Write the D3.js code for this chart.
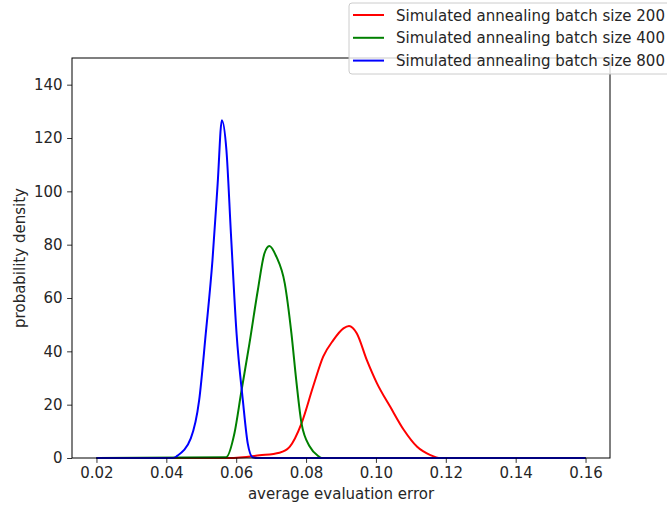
<!DOCTYPE html>
<html><head><meta charset="utf-8">
<script src="https://cdn.jsdelivr.net/npm/d3@7"></script>
<style>body{margin:0;background:#fff}svg{display:block}text{font-family:"DejaVu Sans",sans-serif;fill:#262626}</style>
</head><body><svg id="c" width="667" height="505"></svg>
<script>
const xTicks=[0.02,0.04,0.06,0.08,0.10,0.12,0.14,0.16];
const yTicks=[0,20,40,60,80,100,120,140];
const seriesNames=["Simulated annealing batch size 200","Simulated annealing batch size 400","Simulated annealing batch size 800"];
const seriesColors=["#ff0000","#008000","#0000ff"];
const red=[[0.02,0],[0.058,0],[0.0667,1.0],[0.0724,2.0],[0.0753,4.2],[0.0787,13],[0.082,26.7],[0.0849,38],[0.0878,44.2],[0.0907,48.6],[0.0923,49.5],[0.0945,46.8],[0.0974,36.7],[0.1003,28],[0.1041,19.2],[0.108,10.5],[0.1118,4.2],[0.1156,1.1],[0.1185,0],[0.16,0]];
const green=[[0.02,0],[0.0571,0.3],[0.0595,9.3],[0.0614,24.3],[0.0638,43],[0.0662,63],[0.0681,76.8],[0.0695,79.5],[0.0715,75.5],[0.0739,65.5],[0.0758,46.8],[0.0772,29],[0.0787,13],[0.0811,4.2],[0.0835,0.7],[0.0845,0],[0.16,0]];
const blue=[[0.02,0],[0.042,0],[0.0431,0.8],[0.047,7.4],[0.0494,21.7],[0.0513,46.8],[0.0532,74],[0.0547,103],[0.0559,126.7],[0.0572,115.5],[0.0585,84],[0.0601,46.8],[0.0619,21.7],[0.0633,5.5],[0.0647,0.3],[0.066,0],[0.16,0]];
const series=[red,green,blue];

const svg=d3.select("#c");
const L=72,R=610,T=58,B=458;
const x=d3.scaleLinear().domain([0.013,0.167]).range([L,R]);
const y=d3.scaleLinear().domain([0,150]).range([B,T]);
const fs="15px";

const line=d3.line().x(d=>x(d[0])).y(d=>y(d[1])).curve(d3.curveMonotoneX);
svg.append("g").selectAll("path").data(series).join("path")
  .attr("d",line).attr("fill","none").attr("stroke",(d,i)=>seriesColors[i]).attr("stroke-width",2)
  .attr("stroke-linejoin","round");

const xa=svg.append("g").attr("transform",`translate(0,${B})`)
  .call(d3.axisBottom(x).tickValues(xTicks).tickFormat(d3.format(".2f")).tickSizeOuter(0).tickSize(4.9).tickPadding(4.5));
const ya=svg.append("g").attr("transform",`translate(${L},0)`)
  .call(d3.axisLeft(y).tickValues(yTicks).tickFormat(d3.format("d")).tickSizeOuter(0).tickSize(4.9).tickPadding(4.5));
[xa,ya].forEach(a=>{a.select(".domain").remove();a.selectAll("line").attr("stroke","#000").attr("stroke-width",0.8);
  a.selectAll("text").style("font-size",fs).attr("fill","#262626").style("font-family","DejaVu Sans");});

svg.append("rect").attr("x",L).attr("y",T).attr("width",R-L).attr("height",B-T)
  .attr("fill","none").attr("stroke","#000").attr("stroke-width",1);

svg.append("text").attr("x",(L+R)/2).attr("y",499).attr("text-anchor","middle").style("font-size",fs).text("average evaluation error");
svg.append("text").attr("transform",`translate(25,${(T+B)/2}) rotate(-90)`).attr("text-anchor","middle").style("font-size",fs).text("probability density");

const lg=svg.append("g");
lg.append("rect").attr("x",349).attr("y",3).attr("width",340).attr("height",71).attr("rx",3)
  .attr("fill","#fff").attr("fill-opacity",0.8).attr("stroke","#cccccc").attr("stroke-width",1);
seriesNames.forEach((n,i)=>{
  const yy=15+i*22.8;
  lg.append("line").attr("x1",353).attr("x2",384).attr("y1",yy).attr("y2",yy).attr("stroke",seriesColors[i]).attr("stroke-width",2);
  lg.append("text").attr("x",396).attr("y",yy+5.5).style("font-size",fs).text(n);
});
</script></body></html>
